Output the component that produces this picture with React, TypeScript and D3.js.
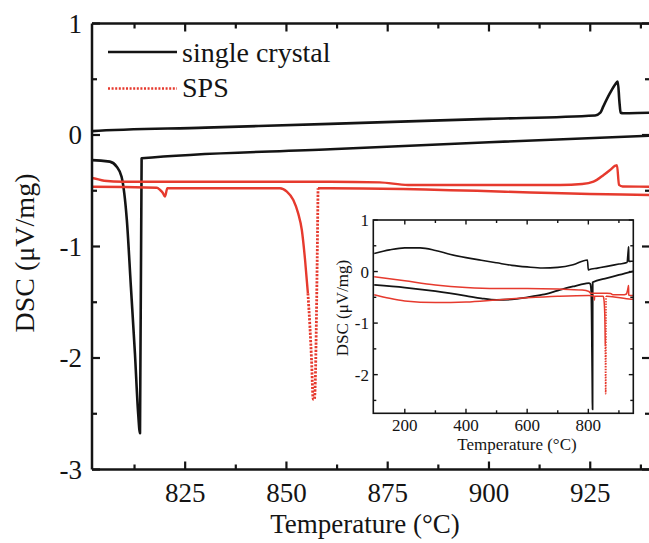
import React from 'react';
import * as d3 from 'd3';

// ---- data (temperature °C, DSC µV/mg) ----
const scHeatT = [100, 150, 200, 250, 300, 350, 400, 450, 500, 550, 600, 650, 700, 750, 797, 800, 802, 830, 860.8, 900, 926.2, 927.5, 928.2, 929.9, 931.2, 931.8, 932.2, 932.5, 933.2, 940, 947];
const scHeatV = [0.35, 0.42, 0.46, 0.46, 0.41, 0.33, 0.27, 0.22, 0.17, 0.12, 0.09, 0.07, 0.08, 0.13, 0.225, 0.03, 0.035, 0.066, 0.1, 0.145, 0.175, 0.2, 0.254, 0.377, 0.455, 0.48, 0.3, 0.2, 0.195, 0.2, 0.2];

const scCoolT = [100, 200, 300, 400, 450, 500, 550, 600, 650, 700, 750, 790, 802, 806.4, 808.1, 809.3, 810.6, 811.6, 812.6, 813.4, 813.85, 814.25, 860.8, 900, 947];
const scCoolV = [-0.26, -0.31, -0.38, -0.47, -0.52, -0.55, -0.54, -0.5, -0.45, -0.37, -0.29, -0.235, -0.225, -0.239, -0.284, -0.374, -0.762, -1.36, -1.96, -2.5, -2.675, -0.209, -0.128, -0.065, 0.005];

const spsHeatT = [100, 200, 300, 400, 500, 600, 700, 780, 802, 805, 809.6, 860.8, 873, 880, 917.6, 923, 925.8, 928.3, 929.9, 931.2, 931.6, 932.1, 933, 940, 947];
const spsHeatV = [-0.1, -0.18, -0.26, -0.31, -0.33, -0.33, -0.34, -0.36, -0.386, -0.41, -0.419, -0.419, -0.425, -0.448, -0.448, -0.44, -0.419, -0.359, -0.314, -0.275, -0.27, -0.448, -0.462, -0.464, -0.465];

const spsCoolT = [100, 150, 200, 300, 400, 500, 600, 700, 802, 818, 818.8, 819.5, 820, 820.6, 848.4, 850.1, 851.7, 852.9, 853.8, 854.6, 855.3, 855.8, 856.2, 856.6, 856.9, 857.8, 860.8, 940, 947];
const spsCoolV = [-0.45, -0.52, -0.57, -0.6, -0.59, -0.55, -0.51, -0.48, -0.464, -0.473, -0.493, -0.52, -0.553, -0.478, -0.478, -0.508, -0.583, -0.703, -0.852, -1.121, -1.42, -1.72, -2.018, -2.37, -2.37, -0.478, -0.478, -0.538, -0.54];
const spsDotFrom = 855.3;
const spsDotTo = 857.8;

// ---- ticks / labels ----
const xMajor = [825, 850, 875, 900, 925];
const xMinor = [812.5, 837.5, 862.5, 887.5, 912.5, 937.5];
const yMajor = [-3, -2, -1, 0, 1];
const yMinor = [-2.5, -1.5, -0.5, 0.5];
const ixMajor = [200, 400, 600, 800];
const ixMinor = [300, 500, 700, 900];
const iyMajor = [-2, -1, 0, 1];
const iyMinor = [-2.5, -1.5, -0.5, 0.5];
const legendLabels = ['single crystal', 'SPS'];
const xTitle = 'Temperature (°C)';
const yTitle = 'DSC (\u03bcV/mg)';

const BLACK = '#141414';
const RED = '#e63a2e';
const FONT = '"Liberation Serif", "Times New Roman", serif';

type P = [number, number];
const zip = (T: number[], V: number[]): P[] => T.map((t, i) => [t, V[i]] as P);

export default function App() {
  const W = 649, H = 543;
  const x = d3.scaleLinear().domain([802, 940]).range([92, 651]);
  const y = d3.scaleLinear().domain([-3, 1]).range([469.5, 23.5]);
  const ix = d3.scaleLinear().domain([97, 947]).range([373.3, 633.3]);
  const iy = d3.scaleLinear().domain([-2.75, 1]).range([413.3, 220]);

  const mLine = d3.line<P>().x(d => x(d[0])).y(d => y(d[1])).curve(d3.curveMonotoneX);
  const iLine = d3.line<P>().x(d => ix(d[0])).y(d => iy(d[1])).curve(d3.curveMonotoneX);

  const scHeat = zip(scHeatT, scHeatV);
  const scCool = zip(scCoolT, scCoolV);
  const spsHeat = zip(spsHeatT, spsHeatV);
  const spsCool = zip(spsCoolT, spsCoolV);
  const spsCoolA = spsCool.filter(d => d[0] <= spsDotFrom);
  const spsCoolDot = spsCool.filter(d => d[0] >= spsDotFrom && d[0] <= spsDotTo);
  const spsCoolB = spsCool.filter(d => d[0] >= spsDotTo);

  const [x0, x1] = x.range();
  const [yb, yt] = y.range();
  const [ix0, ix1] = ix.range();
  const [iyb, iyt] = iy.range();

  const maj = 8, min = 5;
  const imaj = 4.5, imin = 3;

  return (
    <svg width={W} height={H} style={{ position: 'absolute', left: 0, top: 0, background: '#fff' }} fontFamily={FONT}>
      <defs>
        <clipPath id="mainclip"><rect x={x0} y={yt} width={x1 - x0} height={yb - yt} /></clipPath>
        <clipPath id="insetclip"><rect x={ix0} y={iyt} width={ix1 - ix0} height={iyb - iyt} /></clipPath>
      </defs>
      <rect x={0} y={0} width={W} height={H} fill="#fff" />

      {/* main curves */}
      <g clipPath="url(#mainclip)" fill="none" strokeLinejoin="round">
        <path d={mLine(scHeat) || ''} stroke={BLACK} strokeWidth={2.6} />
        <path d={mLine(scCool) || ''} stroke={BLACK} strokeWidth={2.6} />
        <path d={mLine(spsHeat) || ''} stroke={RED} strokeWidth={2.4} />
        <path d={mLine(spsCoolA) || ''} stroke={RED} strokeWidth={2.4} />
        <path d={mLine(spsCoolDot) || ''} stroke={RED} strokeWidth={2.8} strokeDasharray="2.2,1.4" />
        <path d={mLine(spsCoolB) || ''} stroke={RED} strokeWidth={2.4} />
      </g>

      {/* main axes frame */}
      <g stroke={BLACK} strokeWidth={2.5} fill="none">
        <line x1={x0} x2={x1} y1={yb} y2={yb} />
        <line x1={x0} x2={x1} y1={yt} y2={yt} />
        <line x1={x0} x2={x0} y1={yt} y2={yb} />
        <line x1={x1} x2={x1} y1={yt} y2={yb} />
      </g>
      <g stroke={BLACK} strokeWidth={2.2}>
        {xMajor.map(t => (
          <g key={'xM' + t}>
            <line x1={x(t)} x2={x(t)} y1={yb} y2={yb - maj} />
            <line x1={x(t)} x2={x(t)} y1={yt} y2={yt + maj} />
          </g>
        ))}
        {xMinor.map(t => (
          <g key={'xm' + t}>
            <line x1={x(t)} x2={x(t)} y1={yb} y2={yb - min} />
            <line x1={x(t)} x2={x(t)} y1={yt} y2={yt + min} />
          </g>
        ))}
        {yMajor.map(t => (
          <g key={'yM' + t}>
            <line x1={x0} x2={x0 + maj} y1={y(t)} y2={y(t)} />
            <line x1={x1} x2={x1 - maj - 1} y1={y(t)} y2={y(t)} />
          </g>
        ))}
        {yMinor.map(t => (
          <g key={'ym' + t}>
            <line x1={x0} x2={x0 + min} y1={y(t)} y2={y(t)} />
            <line x1={x1} x2={x1 - min - 1} y1={y(t)} y2={y(t)} />
          </g>
        ))}
      </g>
      <g fontSize={27} fill={BLACK}>
        {xMajor.map(t => (
          <text key={'xl' + t} x={x(t)} y={502} textAnchor="middle">{String(t)}</text>
        ))}
        {yMajor.map(t => (
          <text key={'yl' + t} x={82} y={y(t) + 9} textAnchor="end">{String(t)}</text>
        ))}
        <text x={365} y={533} textAnchor="middle">{xTitle}</text>
        <text transform="translate(34,253) rotate(-90)" textAnchor="middle" fontSize={28}>{yTitle}</text>
      </g>

      {/* legend */}
      <g>
        <line x1={108} x2={177} y1={52} y2={52} stroke={BLACK} strokeWidth={2.6} />
        <text x={182} y={62} fontSize={28} fill={BLACK}>{legendLabels[0]}</text>
        <line x1={108} x2={177} y1={88.5} y2={88.5} stroke={RED} strokeWidth={2.4} strokeDasharray="2,1.6" />
        <text x={182} y={97} fontSize={28} fill={BLACK}>{legendLabels[1]}</text>
      </g>

      {/* inset */}
      <rect x={ix0} y={iyt} width={ix1 - ix0} height={iyb - iyt} fill="#fff" />
      <g clipPath="url(#insetclip)" fill="none" strokeLinejoin="round">
        <path d={iLine(scHeat) || ''} stroke={BLACK} strokeWidth={1.6} />
        <path d={iLine(scCool) || ''} stroke={BLACK} strokeWidth={1.8} />
        <path d={iLine(spsHeat) || ''} stroke={RED} strokeWidth={1.5} />
        <path d={iLine(spsCoolA) || ''} stroke={RED} strokeWidth={1.5} />
        <path d={iLine(spsCoolDot) || ''} stroke={RED} strokeWidth={1.6} strokeDasharray="1.5,1.2" />
        <path d={iLine(spsCoolB) || ''} stroke={RED} strokeWidth={1.5} />
      </g>
      <rect x={ix0} y={iyt} width={ix1 - ix0} height={iyb - iyt} fill="none" stroke={BLACK} strokeWidth={1.6} />
      <g stroke={BLACK} strokeWidth={1.4}>
        {ixMajor.map(t => (
          <g key={'ixM' + t}>
            <line x1={ix(t)} x2={ix(t)} y1={iyb} y2={iyb - imaj} />
            <line x1={ix(t)} x2={ix(t)} y1={iyt} y2={iyt + imaj} />
          </g>
        ))}
        {ixMinor.map(t => (
          <g key={'ixm' + t}>
            <line x1={ix(t)} x2={ix(t)} y1={iyb} y2={iyb - imin} />
            <line x1={ix(t)} x2={ix(t)} y1={iyt} y2={iyt + imin} />
          </g>
        ))}
        {iyMajor.map(t => (
          <g key={'iyM' + t}>
            <line x1={ix0} x2={ix0 + imaj} y1={iy(t)} y2={iy(t)} />
            <line x1={ix1} x2={ix1 - imaj} y1={iy(t)} y2={iy(t)} />
          </g>
        ))}
        {iyMinor.map(t => (
          <g key={'iym' + t}>
            <line x1={ix0} x2={ix0 + imin} y1={iy(t)} y2={iy(t)} />
            <line x1={ix1} x2={ix1 - imin} y1={iy(t)} y2={iy(t)} />
          </g>
        ))}
      </g>
      <g fontSize={17} fill={BLACK}>
        {ixMajor.map(t => (
          <text key={'ixl' + t} x={ix(t)} y={431} textAnchor="middle">{String(t)}</text>
        ))}
        {iyMajor.map(t => (
          <text key={'iyl' + t} x={369} y={iy(t) + 6} textAnchor="end">{String(t)}</text>
        ))}
        <text x={517} y={450} textAnchor="middle">{xTitle}</text>
        <text transform="translate(348,308) rotate(-90)" textAnchor="middle">{yTitle}</text>
      </g>
    </svg>
  );
}
